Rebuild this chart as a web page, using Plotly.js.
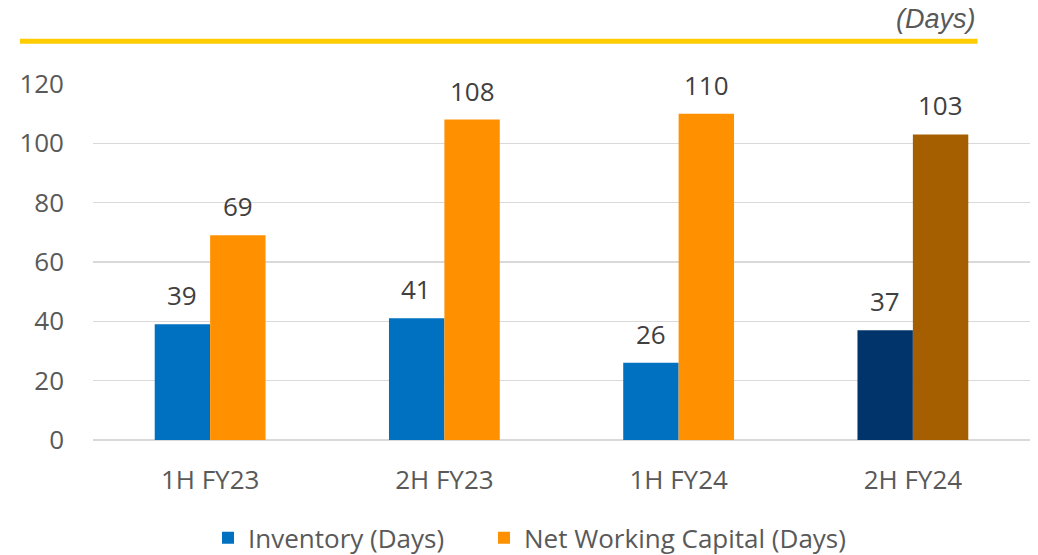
<!DOCTYPE html>
<html>
<head>
<meta charset="utf-8">
<script src="https://cdn.plot.ly/plotly-3.0.1.min.js"></script>
<style>html,body{margin:0;padding:0;background:#fff;}#chart{width:1038px;height:555px;}</style>
</head>
<body>
<div id="chart"></div>
<script>
const categories = ['1H FY23', '2H FY23', '1H FY24', '2H FY24'];
const inventoryDays = [39, 41, 26, 37];
const nwcDays = [69, 108, 110, 103];
const inventoryColors = ['#0070C0', '#0070C0', '#0070C0', '#00346B'];
const nwcColors = ['#FF9000', '#FF9000', '#FF9000', '#A65F00'];
const seriesNames = ['Inventory (Days)', 'Net Working Capital (Days)'];

const textFont = {family: 'Open Sans, sans-serif', size: 26, color: '#404040'};
const tickFont = {family: 'Open Sans, sans-serif', size: 26, color: '#595959'};

const traces = [
  {type: 'bar', name: seriesNames[0], x: categories, y: inventoryDays, legend: 'legend',
   marker: {color: inventoryColors}, hoverinfo: 'none'},
  {type: 'bar', name: seriesNames[1], x: categories, y: nwcDays, legend: 'legend2',
   marker: {color: nwcColors}, hoverinfo: 'none'}
];

const annotations = [];
[inventoryDays, nwcDays].forEach((vals, s) => {
  vals.forEach((v, i) => {
    annotations.push({x: categories[i], y: v, xref: 'x', yref: 'y',
      text: String(v), showarrow: false, yanchor: 'bottom',
      xshift: s === 0 ? -28 : 28, yshift: 9, font: textFont});
  });
});
annotations.push({xref: 'paper', yref: 'paper', x: 0.944, y: 1.135, text: '<i>(Days)</i>',
  xanchor: 'right', yanchor: 'bottom', showarrow: false,
  font: {family: 'Liberation Sans Narrow, Liberation Sans, Arial, sans-serif', size: 27, color: '#595959'}});

const legendBase = {orientation: 'h', xref: 'container', yref: 'container',
  xanchor: 'left', y: 0.031, yanchor: 'middle', borderwidth: 0,
  font: tickFont, itemclick: false, bgcolor: 'rgba(0,0,0,0)'};

const layout = {
  width: 1038, height: 555,
  margin: {l: 93, r: 8, t: 84, b: 115},
  paper_bgcolor: '#fff', plot_bgcolor: '#fff',
  barmode: 'group', bargap: 0.527, bargroupgap: 0,
  showlegend: true,
  legend: Object.assign({}, legendBase, {x: 0.2004}),
  legend2: Object.assign({}, legendBase, {x: 0.4663}),
  xaxis: {type: 'category', tickfont: tickFont, showgrid: false, showline: false,
    ticks: '', ticklabelstandoff: 22, fixedrange: true},
  yaxis: {range: [0, 120], dtick: 20, tickfont: tickFont, showgrid: true,
    gridcolor: '#D9D9D9', gridwidth: 1.5, zeroline: true, zerolinecolor: '#D9D9D9',
    zerolinewidth: 1.5, showline: false, ticks: '', ticklabelstandoff: 28, fixedrange: true},
  annotations: annotations,
  shapes: [{type: 'line', xref: 'paper', yref: 'paper', x0: -0.078, x1: 0.944,
    y0: 1.12, y1: 1.12, line: {color: '#FFCC00', width: 5}}]
};

Plotly.newPlot('chart', traces, layout, {displayModeBar: false, staticPlot: true});
</script>
</body>
</html>
